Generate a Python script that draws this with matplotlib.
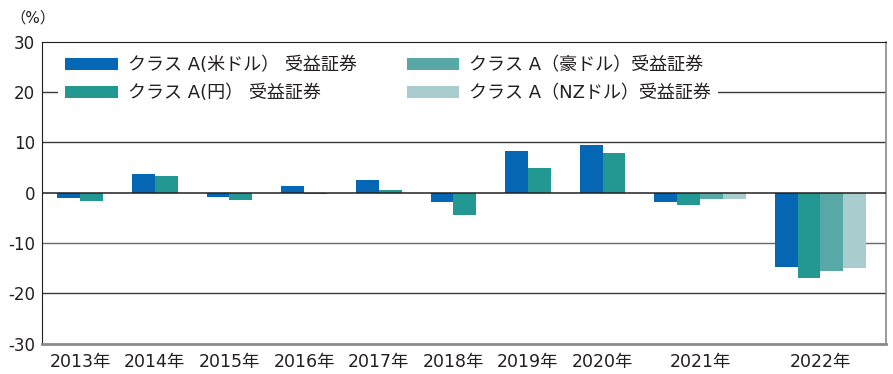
import numpy as np
import matplotlib.pyplot as plt
from matplotlib.patches import Patch

plt.rcParams['font.family'] = ['DejaVu Sans', 'Noto Sans CJK JP']
plt.rcParams['axes.unicode_minus'] = False

years = ['2013年', '2014年', '2015年', '2016年', '2017年',
         '2018年', '2019年', '2020年', '2021年', '2022年']
usd = [-1.1, 3.8, -0.9, 1.4, 2.5, -1.9, 8.2, 9.5, -1.9, -14.8]
jpy = [-1.7, 3.4, -1.5, -0.3, 0.5, -4.5, 5.0, 7.8, -2.5, -17.0]
aud = [np.nan] * 8 + [-1.3, -15.6]
nzd = [np.nan] * 8 + [-1.3, -15.0]

labels = ['クラス A(米ドル） 受益証券', 'クラス A(円） 受益証券',
          'クラス A（豪ドル）受益証券', 'クラス A（NZドル）受益証券']
colors = ['#0567b3', '#239893', '#57a8a7', '#a9cdcf']
series = [usd, jpy, aud, nzd]

gap = 1.27  # space between year groups, in bar widths

fig = plt.figure(figsize=(8.93, 3.74), dpi=100)
ax = fig.add_axes([42 / 893, 1 - 343.7 / 374, 843.7 / 893, 302 / 374])

# lay bars out one after another, each year only as wide as its series
pos = 0.0
centers = []
for i in range(len(years)):
    vals = [s[i] for s in series]
    n = 0
    for k, v in enumerate(vals):
        if np.isnan(v):
            continue
        ax.bar(pos + n + 0.5, v, width=1.0, color=colors[k], zorder=2, linewidth=0)
        n += 1
    centers.append(pos + n / 2)
    pos += n + gap

ax.set_xlim(-0.67, pos - gap + 0.86)
ax.set_ylim(-30, 30)
ax.set_yticks(np.arange(-30, 31, 10))
ax.set_xticks(centers)
ax.set_xticklabels(years)
ax.tick_params(axis='x', length=0, labelsize=12.5, colors='#231f20', pad=7)
ax.tick_params(axis='y', length=0, labelsize=12, colors='#231f20', pad=5)

for y in [-20, -10, 10, 20]:
    ax.axhline(y, color='#3a3a3a' if y != -10 else '#6a6a6a', lw=1.0, zorder=1)
ax.axhline(0, color='#231f20', lw=1.1, zorder=3)

ax.spines['left'].set_color('#231f20')
ax.spines['top'].set_color('#231f20')
ax.spines['right'].set_color('#8a8a8a')
ax.spines['bottom'].set_color('#8a8a8a')
ax.spines['bottom'].set_linewidth(2)
ax.spines['right'].set_linewidth(1.2)

handles = [Patch(facecolor=c, edgecolor='none') for c in colors]
leg = ax.legend(handles, labels, ncol=2, loc='upper left',
                bbox_to_anchor=(0.019, 0.975), borderaxespad=0,
                fontsize=13, frameon=True, facecolor='white', edgecolor='none',
                framealpha=1, fancybox=False, handlelength=2.9, handleheight=0.6,
                handletextpad=0.55, columnspacing=2.8, labelspacing=0.55,
                borderpad=0.4)
leg.set_zorder(5)
for t in leg.get_texts():
    t.set_color('#231f20')

fig.text(10 / 893, 1 - 18 / 374, '（%）', fontsize=11, color='#231f20',
         ha='left', va='center')

plt.savefig('out.png', dpi=100)
